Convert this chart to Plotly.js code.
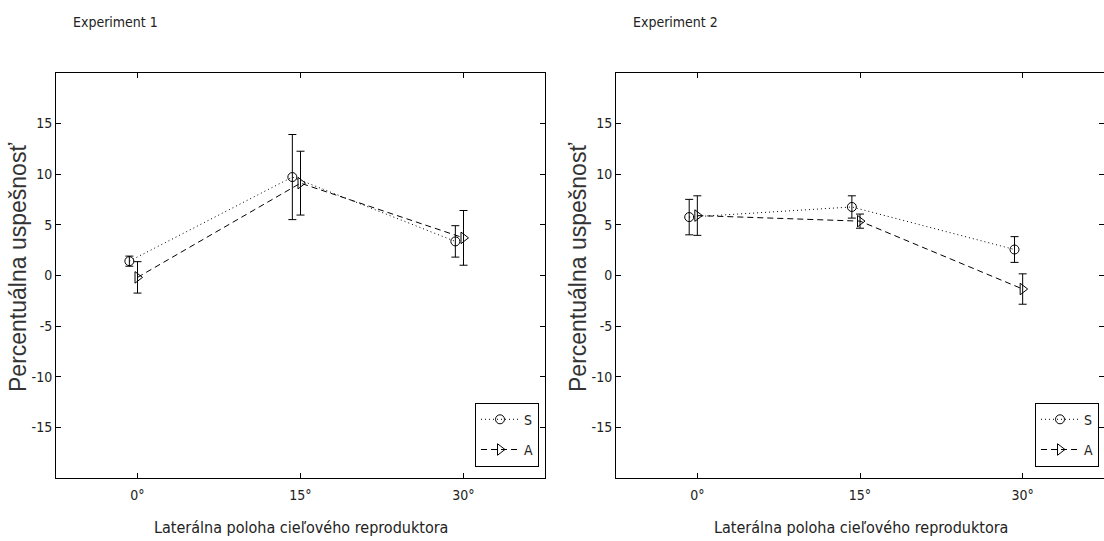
<!DOCTYPE html>
<html>
<head>
<meta charset="utf-8">
<script src="https://cdn.plot.ly/plotly-3.0.1.min.js"></script>
<style>html,body{margin:0;padding:0;background:#fff;}#chart{width:1104px;height:541px;}</style>
</head>
<body>
<div id="chart"></div>
<script>
// ---- data ----
const categories = ['0°', '15°', '30°'];
const seriesNames = ['S', 'A'];
const panelTitles = ['Experiment 1', 'Experiment 2'];
const xTitle = 'Laterálna poloha cieľového reproduktora';
const yTitle = 'Percentuálna uspešnosť';
const yTickVals = [-15, -10, -5, 0, 5, 10, 15];

const exp1S = [1.4, 9.7, 3.35];
const exp1SErr = [0.5, 4.2, 1.55];
const exp1A = [-0.2, 9.1, 3.7];
const exp1AErr = [1.55, 3.15, 2.7];

const exp2S = [5.75, 6.75, 2.55];
const exp2SErr = [1.75, 1.1, 1.27];
const exp2A = [5.9, 5.35, -1.35];
const exp2AErr = [1.95, 0.7, 1.5];

// ---- styling ----
const NARROW = '"DejaVu Sans Condensed", "Liberation Sans", Arial, sans-serif';
const SANS = '"Liberation Sans", Arial, sans-serif';
const TXT = '#222';
const W = 1104, H = 541;
const plotTop = 72.7, plotBottom = 478;
const panelLeft = [56, 616], panelRight = [545, 1104];
const sOffset = -0.05;

const idx = categories.map((c, i) => i + 1);

function makeTrace(name, y, err, xa, ya, legend, isS) {
  return {
    type: 'scatter', mode: 'lines+markers', name: name,
    x: idx.map(v => v + (isS ? sOffset : 0)), y: y,
    xaxis: xa, yaxis: ya, legend: legend, legendgroup: legend + name,
    line: {color: '#000', width: 1, dash: isS ? '1px,3px' : '6px,4px'},
    marker: {symbol: isS ? 'circle-open' : 'triangle-right-open', size: isS ? 9 : 10,
             color: '#000', line: {width: 1, color: '#000'}},
    error_y: {type: 'data', array: err, visible: true, color: '#000', thickness: 1, width: 4},
    hoverinfo: 'x+y'
  };
}

const data = [
  makeTrace(seriesNames[0], exp1S, exp1SErr, 'x', 'y', 'legend', true),
  makeTrace(seriesNames[1], exp1A, exp1AErr, 'x', 'y', 'legend', false),
  makeTrace(seriesNames[0], exp2S, exp2SErr, 'x2', 'y2', 'legend2', true),
  makeTrace(seriesNames[1], exp2A, exp2AErr, 'x2', 'y2', 'legend2', false)
];

const yDomain = [(H - plotBottom) / H, (H - plotTop) / H];

function xAxis(p, anchor) {
  return {
    domain: [panelLeft[p] / W, Math.min(1, panelRight[p] / W)], anchor: anchor,
    range: [0.5, 3.5], tickmode: 'array', tickvals: idx, ticktext: categories,
    ticks: 'inside', ticklen: 5, tickcolor: '#000', mirror: 'ticks',
    showline: true, linecolor: '#000', linewidth: 1, showgrid: false, zeroline: false,
    tickfont: {family: NARROW, size: 14, color: TXT}, ticklabelstandoff: 4
  };
}
function yAxis(anchor) {
  return {
    domain: yDomain, anchor: anchor, range: [-20, 20],
    tickmode: 'array', tickvals: yTickVals, ticktext: yTickVals.map(String),
    ticks: 'inside', ticklen: 5, tickcolor: '#000', mirror: 'ticks',
    showline: true, linecolor: '#000', linewidth: 1, showgrid: false, zeroline: false,
    tickfont: {family: NARROW, size: 14, color: TXT}
  };
}

function legendAt(p) {
  return {
    x: (539 + p * 560) / W, xanchor: 'right',
    y: (H - 402.7) / H, yanchor: 'top',
    bgcolor: '#fff', bordercolor: '#000', borderwidth: 1,
    font: {family: NARROW, size: 14, color: TXT},
    itemwidth: 38, traceorder: 'grouped', tracegroupgap: 9,
    itemclick: false, itemdoubleclick: false
  };
}

const annotations = [];
[0, 1].forEach(p => {
  const cx = (panelLeft[p] + panelLeft[p] + 489) / 2;
  annotations.push({text: panelTitles[p], xref: 'paper', yref: 'paper', showarrow: false,
    x: (panelLeft[p] + 15) / W, xanchor: 'left', y: (H - 22) / H, yanchor: 'middle',
    font: {family: NARROW, size: 14, color: TXT}});
  annotations.push({text: xTitle, xref: 'paper', yref: 'paper', showarrow: false,
    x: cx / W, xanchor: 'center', y: (H - 527) / H, yanchor: 'middle',
    font: {family: NARROW, size: 16, color: TXT}});
  annotations.push({text: yTitle, xref: 'paper', yref: 'paper', showarrow: false, textangle: -90,
    x: (panelLeft[p] - 38) / W, xanchor: 'center', y: (H - 268) / H, yanchor: 'middle',
    font: {family: SANS, size: 23, color: '#333'}});
});

const layout = {
  width: W, height: H, margin: {l: 0, r: 0, t: 0, b: 0},
  paper_bgcolor: '#fff', plot_bgcolor: '#fff',
  xaxis: xAxis(0, 'y'), yaxis: yAxis('x'),
  xaxis2: xAxis(1, 'y2'), yaxis2: yAxis('x2'),
  legend: legendAt(0), legend2: legendAt(1),
  annotations: annotations,
  showlegend: true
};

Plotly.newPlot('chart', data, layout, {displayModeBar: false});
</script>
</body>
</html>
